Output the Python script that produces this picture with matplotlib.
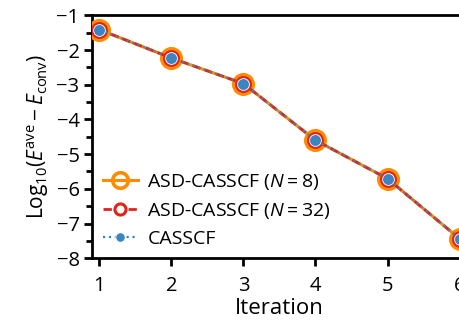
import matplotlib
matplotlib.use("Agg")
import matplotlib.pyplot as plt

# iterations and log10 energy error
iteration = [1, 2, 3, 4, 5, 6]
asd_n8 = [-1.41, -2.23, -2.97, -4.60, -5.71, -7.44]
asd_n32 = [-1.41, -2.23, -2.97, -4.60, -5.71, -7.44]
casscf = [-1.41, -2.23, -2.97, -4.60, -5.71, -7.44]
yticks = [-1, -2, -3, -4, -5, -6, -7, -8]

plt.rcParams['font.family'] = ['Open Sans', 'DejaVu Sans']
plt.rcParams['mathtext.fontset'] = 'custom'
plt.rcParams['mathtext.rm'] = 'Open Sans'
plt.rcParams['mathtext.it'] = 'Open Sans:italic'

orange = '#FF8C00'
red = '#E2231A'
blue = '#3C85C3'

fig = plt.figure(figsize=(4.6, 3.22), dpi=100)
ax = fig.add_axes([0.2, 0.198, 0.815, 0.7545])

ax.plot(iteration, asd_n8, '-o', color=orange, lw=2.2, ms=14, mew=2.6,
        mfc='none', label='ASD-CASSCF ($N = 8$)', zorder=3)
ax.plot(iteration, asd_n32, '--o', color=red, lw=2.0, ms=10, mew=2.2,
        mfc='white', dashes=(3, 1.5), label='ASD-CASSCF ($N = 32$)', zorder=4)
ax.plot(iteration, casscf, ':o', color=blue, lw=1.6, ms=8.5, mew=0.6,
        mec='white', mfc=blue, label='CASSCF', zorder=5)

ax.set_xlim(0.9, 6.1)
ax.set_ylim(-8, -1)
ax.set_xticks(iteration)
ax.set_yticks(yticks)
ax.set_yticks([v - 0.5 for v in yticks[:-1]], minor=True)
ax.set_yticklabels(['\u2212%d' % abs(v) for v in yticks])

for s in ax.spines.values():
    s.set_linewidth(2)
ax.tick_params(axis='both', which='major', direction='out', length=6, width=2,
               labelsize=14.5, pad=3)
ax.tick_params(axis='x', which='major', pad=7)
ax.tick_params(axis='y', which='minor', direction='out', length=4, width=2)

ax.set_xlabel('Iteration', fontsize=16, labelpad=1)
ax.set_ylabel('Log$_{10}$($E^{\\rm ave} - E_{\\rm conv}$)', fontsize=15, labelpad=4)

leg = ax.legend(loc='lower left', frameon=False, fontsize=14, markerscale=0.8,
                handlelength=1.8, handletextpad=0.5, labelspacing=0.45,
                borderaxespad=0.15, bbox_to_anchor=(0.0, 0.0))

plt.savefig('out.png', dpi=100)
